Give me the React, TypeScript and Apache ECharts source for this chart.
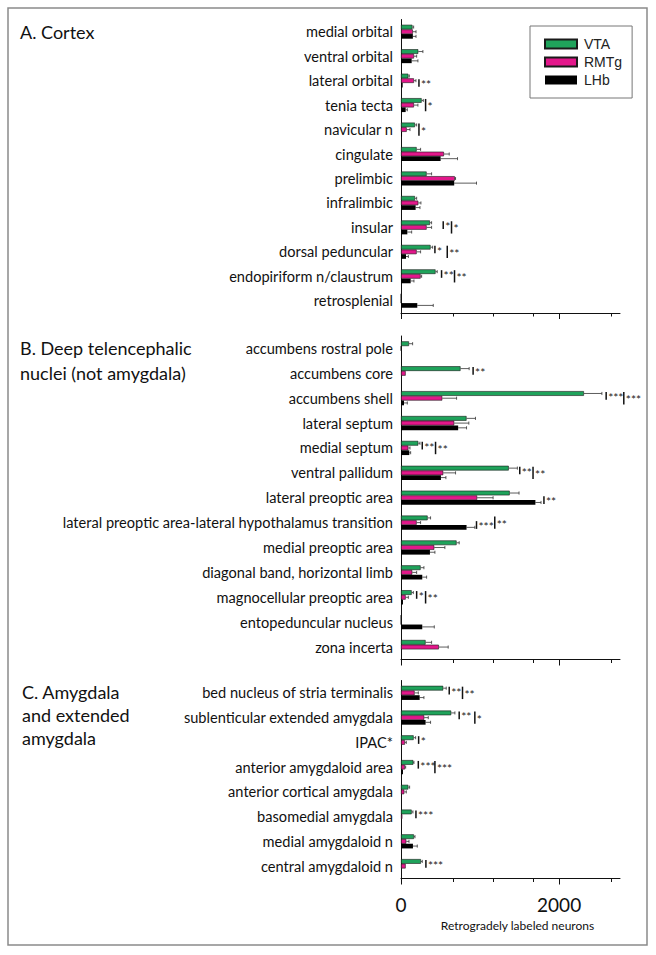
import React, { useEffect, useRef } from 'react';
import * as echarts from 'echarts';

const legendNames = ['VTA', 'RMTg', 'LHb'];
const seriesColors = ['#1fa35b', '#e3178b', '#000000'];

// sig marker: [categoryIndex, xValue, fromSeries, toSeries, stars]
type Sig = [number, number, number, number, string];

// ---------- A. Cortex ----------
const cortexCategories = [
  'medial orbital', 'ventral orbital', 'lateral orbital', 'tenia tecta', 'navicular n',
  'cingulate', 'prelimbic', 'infralimbic', 'insular', 'dorsal peduncular',
  'endopiriform n/claustrum', 'retrosplenial',
];
const cortexVTA = [145, 219, 93, 261, 177, 198, 324, 177, 366, 374, 437, 0];
const cortexVTASem = [15, 58, 12, 21, 21, 50, 63, 21, 21, 26, 21, 0];
const cortexRMTg = [150, 164, 164, 164, 72, 543, 681, 219, 324, 198, 248, 0];
const cortexRMTgSem = [40, 34, 25, 50, 42, 67, 9, 33, 63, 50, 13, 0];
const cortexLHb = [150, 135, 21, 59, 13, 501, 673, 185, 80, 63, 122, 206];
const cortexLHbSem = [40, 79, 0, 21, 0, 214, 282, 55, 55, 30, 42, 202];
const cortexSig: Sig[] = [
  [2, 227, 1, 2, '**'],
  [3, 311, 0, 2, '*'],
  [4, 227, 0, 2, '*'],
  [8, 534, 0, 1, '*'], [8, 639, 0, 2, '*'],
  [9, 429, 0, 1, '*'], [9, 585, 0, 2, '**'],
  [10, 513, 0, 1, '**'], [10, 677, 0, 2, '**'],
];

// ---------- B. Deep telencephalic nuclei ----------
const deepCategories = [
  'accumbens rostral pole', 'accumbens core', 'accumbens shell', 'lateral septum', 'medial septum',
  'ventral pallidum', 'lateral preoptic area', 'lateral preoptic area-lateral hypothalamus transition',
  'medial preoptic area', 'diagonal band, horizontal limb', 'magnocellular preoptic area',
  'entopeduncular nucleus', 'zona incerta',
];
const deepVTA = [101, 753, 2314, 829, 219, 1363, 1375, 337, 703, 248, 135, 0, 311];
const deepVTASem = [46, 109, 227, 113, 21, 109, 118, 37, 33, 42, 21, 0, 76];
const deepRMTg = [0, 59, 522, 673, 93, 534, 963, 198, 421, 143, 59, 0, 479];
const deepRMTgSem = [0, 0, 181, 185, 21, 156, 202, 50, 134, 55, 34, 0, 118];
const deepLHb = [0, 0, 38, 723, 105, 505, 1700, 829, 366, 269, 25, 269, 0];
const deepLHbSem = [0, 0, 42, 106, 17, 63, 71, 105, 63, 55, 0, 152, 0];
const deepSig: Sig[] = [
  [1, 912, 0, 1, '**'],
  [2, 2595, 0, 1, '***'], [2, 2818, 0, 2, '***'],
  [4, 269, 0, 1, '**'], [4, 437, 0, 2, '**'],
  [5, 1502, 0, 1, '**'], [5, 1670, 0, 2, '**'],
  [6, 1808, 1, 2, '**'],
  [7, 955, 1, 2, '***'], [7, 1186, 0, 2, '**'],
  [10, 198, 0, 1, '*'], [10, 311, 0, 2, '**'],
];

// ---------- C. Amygdala and extended amygdala ----------
const amygCategories = [
  'bed nucleus of stria terminalis', 'sublenticular extended amygdala', 'IPAC*',
  'anterior amygdaloid area', 'anterior cortical amygdala', 'basomedial amygdala',
  'medial amygdaloid n', 'central amygdaloid n',
];
const amygVTA = [534, 635, 160, 156, 93, 135, 164, 252];
const amygVTASem = [38, 47, 25, 8, 16, 16, 13, 17];
const amygRMTg = [172, 294, 50, 50, 42, 17, 67, 59];
const amygRMTgSem = [47, 51, 17, 9, 25, 0, 34, 0];
const amygLHb = [236, 311, 0, 25, 0, 0, 151, 0];
const amygLHbSem = [54, 63, 0, 0, 0, 0, 55, 0];
const amygSig: Sig[] = [
  [0, 610, 0, 1, '**'], [0, 778, 0, 2, '**'],
  [1, 736, 0, 1, '**'], [1, 934, 0, 2, '*'],
  [2, 223, 0, 1, '*'],
  [3, 219, 0, 1, '***'], [3, 429, 0, 2, '***'],
  [5, 189, 0, 1, '***'],
  [7, 315, 0, 1, '***'],
];

const majorTicks = [0, 2000];
const minorTicks = [660, 1165, 1670, 2660];
const xTickLabels = [0, 2000];
const xAxisName = 'Retrogradely labeled neurons';

const X_MAX = 2770;
const BAR_FRAC = 0.19;
const LABEL_FONT = 'Lato, "Open Sans", sans-serif';

const panels = [
  { cats: cortexCategories, vals: [cortexVTA, cortexRMTg, cortexLHb], sems: [cortexVTASem, cortexRMTgSem, cortexLHbSem], sig: cortexSig },
  { cats: deepCategories, vals: [deepVTA, deepRMTg, deepLHb], sems: [deepVTASem, deepRMTgSem, deepLHbSem], sig: deepSig },
  { cats: amygCategories, vals: [amygVTA, amygRMTg, amygLHb], sems: [amygVTASem, amygRMTgSem, amygLHbSem], sig: amygSig },
];

const gridBoxes = [
  { left: 401, width: 219, top: 19.5, height: 293.5 },
  { left: 401, width: 219, top: 336, height: 323.5 },
  { left: 401, width: 219, top: 680.5, height: 198 },
];

function buildOption() {
  const grid: any[] = [];
  const xAxis: any[] = [];
  const yAxis: any[] = [];
  const series: any[] = [];

  panels.forEach((p, gi) => {
    grid.push({ ...gridBoxes[gi], outerBoundsMode: 'none', containLabel: false });
    const isLast = gi === panels.length - 1;
    xAxis.push({
      type: 'value', gridIndex: gi, min: 0, max: X_MAX, position: 'bottom',
      axisLine: { show: true, lineStyle: { color: '#111', width: 1 } },
      axisTick: { show: true, length: 6, customValues: majorTicks, lineStyle: { color: '#111', width: 1 } },
      axisLabel: {
        show: isLast, customValues: xTickLabels, margin: 16,
        fontSize: 19, fontFamily: LABEL_FONT, color: '#111',
        formatter: (v: number) => String(v),
      },
      splitLine: { show: false },
      name: isLast ? xAxisName : '',
      nameLocation: 'middle', nameGap: 41,
      nameTextStyle: { fontSize: 12, fontFamily: LABEL_FONT, color: '#111', padding: [0, 0, 0, 14] },
    });
    xAxis.push({
      type: 'value', gridIndex: gi, min: 0, max: X_MAX, position: 'bottom', offset: 0,
      axisLine: { show: false },
      axisTick: { show: true, length: 3.5, customValues: minorTicks, lineStyle: { color: '#111', width: 1 } },
      axisLabel: { show: false },
      splitLine: { show: false },
    });
    yAxis.push({
      type: 'category', gridIndex: gi, data: p.cats, inverse: true,
      axisLine: { show: true, lineStyle: { color: '#111', width: 1 } },
      axisTick: { show: false },
      axisLabel: { fontSize: 14.6, fontFamily: LABEL_FONT, color: '#111', margin: 8 },
      splitLine: { show: false },
    });

    const xi = gi * 2;
    p.vals.forEach((vals, si) => {
      series.push({
        type: 'bar', name: legendNames[si], xAxisIndex: xi, yAxisIndex: gi,
        data: vals, barWidth: `${BAR_FRAC * 100}%`, barGap: '0%',
        itemStyle: { color: seriesColors[si], borderColor: '#1a1a1a', borderWidth: si === 2 ? 0 : 0.6 },
        emphasis: { disabled: true },
        silent: true,
      });
    });

    // error bars
    const errData: number[][] = [];
    p.vals.forEach((vals, si) => {
      vals.forEach((v, ci) => {
        const s = p.sems[si][ci];
        if (s > 0) errData.push([v, ci, v + s, si]);
      });
    });
    series.push({
      type: 'custom', xAxisIndex: xi, yAxisIndex: gi, clip: false, silent: true,
      data: errData,
      encode: { x: [0, 2], y: 1 },
      renderItem: (params: any, api: any) => {
        const cat = api.value(1);
        const p0 = api.coord([api.value(0), cat]);
        const p1 = api.coord([api.value(2), cat]);
        const band = api.size([0, 1])[1];
        const bh = band * BAR_FRAC;
        const y = p0[1] + (api.value(3) - 1) * bh;
        const st = { stroke: '#333', lineWidth: 0.8 };
        return {
          type: 'group',
          children: [
            { type: 'line', shape: { x1: p0[0], y1: y, x2: p1[0], y2: y }, style: st },
            { type: 'line', shape: { x1: p1[0], y1: y - bh / 2 + 0.8, x2: p1[0], y2: y + bh / 2 - 0.8 }, style: st },
          ],
        };
      },
    });

    // significance markers
    const sig = p.sig;
    series.push({
      type: 'custom', xAxisIndex: xi, yAxisIndex: gi, clip: false, silent: true,
      data: sig.map((s) => [s[1], s[0], s[2], s[3]]),
      encode: { x: 0, y: 1 },
      renderItem: (params: any, api: any) => {
        const item = sig[params.dataIndex];
        const cat = api.value(1);
        const pt = api.coord([api.value(0), cat]);
        const band = api.size([0, 1])[1];
        const bh = band * BAR_FRAC;
        const y1 = pt[1] + (item[2] - 1) * bh - 1.5;
        const y2 = pt[1] + (item[3] - 1) * bh + 1.5;
        return {
          type: 'group',
          children: [
            { type: 'line', shape: { x1: pt[0], y1, x2: pt[0], y2 }, style: { stroke: '#111', lineWidth: 1.5 } },
            {
              type: 'text', x: pt[0] + 2, y: (y1 + y2) / 2 + 1.5,
              style: { text: item[4], fontSize: 12, fontFamily: LABEL_FONT, fill: '#222', verticalAlign: 'middle', align: 'left' },
            },
          ],
        };
      },
    });
  });

  const titleStyle = { fontSize: 18, fontFamily: LABEL_FONT, fill: '#111', verticalAlign: 'middle' };
  const graphic: any[] = [
    { type: 'rect', shape: { x: 8, y: 8, width: 639, height: 937 }, style: { fill: 'none', stroke: '#8a8a8a', lineWidth: 1.5 }, z: -1, silent: true },
    { type: 'text', x: 20, y: 31.5, style: { ...titleStyle, text: 'A. Cortex' } },
    { type: 'text', x: 20, y: 348.3, style: { ...titleStyle, text: 'B. Deep telencephalic' } },
    { type: 'text', x: 20, y: 373.3, style: { ...titleStyle, text: 'nuclei (not amygdala)' } },
    { type: 'text', x: 22, y: 691.7, style: { ...titleStyle, text: 'C. Amygdala' } },
    { type: 'text', x: 22, y: 714.5, style: { ...titleStyle, text: 'and extended' } },
    { type: 'text', x: 22, y: 738.3, style: { ...titleStyle, text: 'amygdala' } },
  ];

  return {
    animation: false,
    backgroundColor: '#ffffff',
    legend: {
      data: legendNames, orient: 'vertical', left: 530, top: 26,
      padding: [11, 10, 11, 14], itemGap: 4, itemWidth: 32, itemHeight: 9,
      borderColor: '#777', borderWidth: 1, backgroundColor: '#fff',
      icon: 'rect', selectedMode: false,
      textStyle: { fontFamily: '"Liberation Sans", Arial, sans-serif', fontSize: 14, color: '#222', padding: [0, 0, 0, 2] },
    },
    grid, xAxis, yAxis, series, graphic,
  };
}

export default function App() {
  const ref = useRef<HTMLDivElement>(null);
  useEffect(() => {
    if (!ref.current) return;
    const chart = echarts.init(ref.current, undefined, { renderer: 'svg' });
    chart.setOption(buildOption() as any);
    return () => chart.dispose();
  }, []);
  return <div ref={ref} style={{ position: 'fixed', left: 0, top: 0, width: 656, height: 955, background: '#fff' }} />;
}
